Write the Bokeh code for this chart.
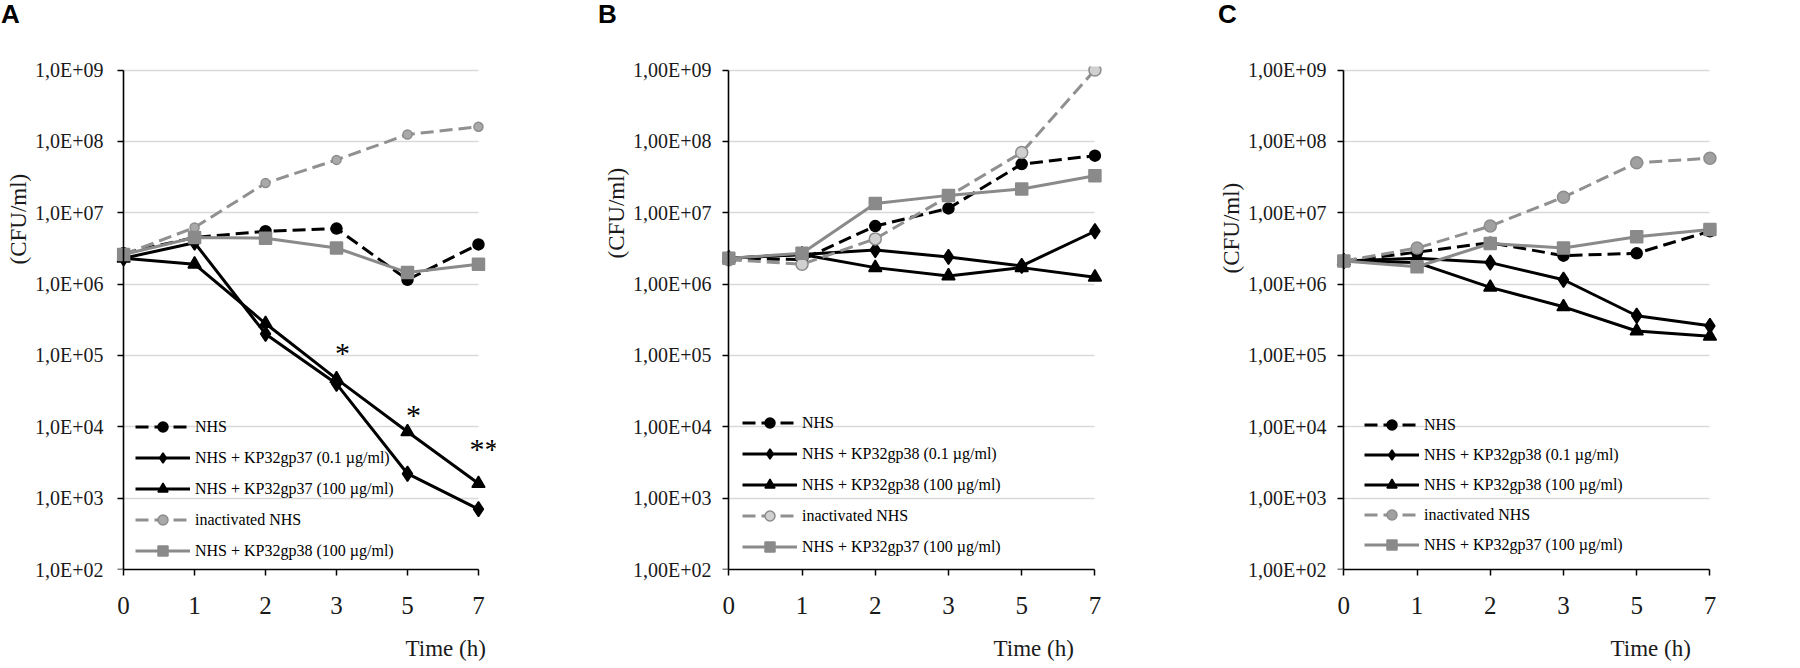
import math
from bokeh.plotting import figure
from bokeh.layouts import row, column
from bokeh.models import (Range1d, FixedTicker, Label, Legend, LegendItem, LogAxis,
                          Title, Div)
from bokeh.embed import file_html
from bokeh.resources import INLINE

# ---------------- data ----------------
times = ["0", "1", "2", "3", "5", "7"]

y_ticks = [1e2, 1e3, 1e4, 1e5, 1e6, 1e7, 1e8, 1e9]
a_tick_labels = ["1,0E+02", "1,0E+03", "1,0E+04", "1,0E+05",
                 "1,0E+06", "1,0E+07", "1,0E+08", "1,0E+09"]
bc_tick_labels = ["1,00E+02", "1,00E+03", "1,00E+04", "1,00E+05",
                  "1,00E+06", "1,00E+07", "1,00E+08", "1,00E+09"]

# Panel A
a_nhs = [2.7e6, 4.5e6, 5.5e6, 6.0e6, 1.15e6, 3.6e6]
a_gp37_low = [2.3e6, 3.8e6, 2.0e5, 4.0e4, 2.2e3, 7.0e2]
a_gp37_high = [2.3e6, 1.9e6, 2.8e5, 4.7e4, 8.5e3, 1.6e3]
a_inact = [2.6e6, 6.2e6, 2.6e7, 5.5e7, 1.25e8, 1.6e8]
a_gp38_high = [2.6e6, 4.5e6, 4.4e6, 3.2e6, 1.45e6, 1.9e6]
a_legend = ["NHS", "NHS + KP32gp37 (0.1 µg/ml)", "NHS + KP32gp37 (100 µg/ml)",
            "inactivated NHS", "NHS + KP32gp38 (100 µg/ml)"]
a_star_time = ["3", "5", "7"]
a_star_value = [1.1e5, 1.5e4, 5.0e3]
a_star_text = ["*", "*", "**"]

# Panel B
b_nhs = [2.3e6, 2.2e6, 6.5e6, 1.15e7, 4.8e7, 6.3e7]
b_gp38_low = [2.3e6, 2.6e6, 3.0e6, 2.4e6, 1.8e6, 5.5e6]
b_gp38_high = [2.3e6, 2.6e6, 1.7e6, 1.3e6, 1.7e6, 1.25e6]
b_inact = [2.2e6, 1.9e6, 4.3e6, 1.7e7, 7.0e7, 1.0e9]
b_gp37_high = [2.3e6, 2.7e6, 1.35e7, 1.75e7, 2.15e7, 3.3e7]

# Panel C
c_nhs = [2.1e6, 2.8e6, 3.8e6, 2.5e6, 2.7e6, 5.5e6]
c_gp38_low = [2.1e6, 2.3e6, 2.0e6, 1.15e6, 3.6e5, 2.6e5]
c_gp38_high = [2.1e6, 2.0e6, 9.0e5, 4.8e5, 2.2e5, 1.85e5]
c_inact = [2.1e6, 3.2e6, 6.5e6, 1.65e7, 5.0e7, 5.8e7]
c_gp37_high = [2.1e6, 1.75e6, 3.7e6, 3.2e6, 4.6e6, 5.8e6]

bc_legend = ["NHS", "NHS + KP32gp38 (0.1 µg/ml)", "NHS + KP32gp38 (100 µg/ml)",
             "inactivated NHS", "NHS + KP32gp37 (100 µg/ml)"]

# ---------------- styling / layout ----------------
FIG_W, FIG_H = 594, 644
DIV_H = 24
PAD_L, PAD_R = 0.10, 0.24
HEAD = 1.12
SERIF = "Liberation Serif"
SANS = "Liberation Sans"
GRAY = "#8a8a8a"
DASH = "13 6"


def styles(inact_size, inact_fill):
    return [
        dict(line="#000000", dash=DASH, marker="circle", size=11, fill="#000000", mline="#000000"),
        dict(line="#000000", dash="solid", marker="diamond", size=15, fill="#000000", mline="#000000"),
        dict(line="#000000", dash="solid", marker="triangle", size=13, fill="#000000", mline="#000000"),
        dict(line="#909090", dash=DASH, marker="circle", size=inact_size, fill=inact_fill, mline="#8c8c8c"),
        dict(line=GRAY, dash="solid", marker="square", size=12, fill=GRAY, mline=GRAY),
    ]


def make_panel(series, legend_labels, tick_labels, st, g, stars=None):
    n = len(times)
    span = n - 1
    unit = (g["x_last"] - g["x_first"]) / span
    frame_left = g["x_first"] - PAD_L * unit
    frame_w = (span + PAD_L + PAD_R) * unit
    ppd = (g["y_bot"] - g["y_top"]) / math.log10(y_ticks[-1] / y_ticks[0])
    frame_top = g["y_top"] - math.log10(HEAD) * ppd
    fig_top = DIV_H
    bl = int(round(frame_left - g["fig_left"]))
    br = int(round(FIG_W - bl - frame_w))
    bt = int(round(frame_top - fig_top))
    bb = int(round(FIG_H - bt - (g["y_bot"] - frame_top)))
    fl = g["fig_left"] + bl
    ft = fig_top + bt
    fb = fig_top + FIG_H - bb

    p = figure(width=FIG_W, height=FIG_H,
               x_range=Range1d(-PAD_L, span + PAD_R),
               y_range=Range1d(y_ticks[0], y_ticks[-1] * HEAD),
               y_axis_type="log", output_backend="svg", toolbar_location=None,
               min_border_left=bl, min_border_right=br,
               min_border_top=bt, min_border_bottom=bb)
    p.outline_line_color = None
    p.background_fill_color = "white"
    p.border_fill_color = "white"
    p.xgrid.visible = False

    yg = p.ygrid[0]
    yg.ticker = FixedTicker(ticks=y_ticks)
    yg.grid_line_color = "#d9d9d9"
    yg.grid_line_width = 1.5
    try:
        yg.cross_bounds = (0, span)
    except Exception:
        pass

    # left axis: tick labels only (at the frame edge)
    ya = p.yaxis[0]
    ya.ticker = FixedTicker(ticks=y_ticks, minor_ticks=[])
    ya.major_label_overrides = {t: s for t, s in zip(y_ticks, tick_labels)}
    ya.axis_line_color = None
    ya.major_tick_line_color = None
    ya.minor_tick_line_color = None
    ya.major_tick_out = 0
    ya.major_tick_in = 0
    ya.minor_tick_out = 0
    ya.minor_tick_in = 0
    ya.major_label_standoff = int(round(g["lab_gap"] - PAD_L * unit))
    ya.major_label_text_font = SERIF
    ya.major_label_text_font_size = "20px"
    ya.major_label_text_color = "#1a1a1a"

    # axis line and ticks drawn exactly at time 0
    ya2 = LogAxis(ticker=FixedTicker(ticks=y_ticks, minor_ticks=[]), fixed_location=0,
                  bounds=(y_ticks[0], y_ticks[-1]),
                  major_label_overrides={t: "" for t in y_ticks},
                  axis_line_color="#000000", axis_line_width=1.6,
                  major_tick_line_color="#000000", major_tick_line_width=1.5,
                  major_tick_in=6, major_tick_out=0, minor_tick_in=0, minor_tick_out=0,
                  major_label_standoff=0, major_label_text_font_size="1px")
    p.add_layout(ya2, "right")

    xa = p.xaxis[0]
    xa.ticker = FixedTicker(ticks=list(range(n)), minor_ticks=[])
    xa.major_label_overrides = {i: t for i, t in enumerate(times)}
    xa.bounds = (0, span)
    xa.axis_line_color = "#000000"
    xa.axis_line_width = 1.6
    xa.major_tick_line_color = "#000000"
    xa.major_tick_line_width = 1.5
    xa.major_tick_out = 6
    xa.major_tick_in = 0
    xa.minor_tick_out = 0
    xa.major_label_standoff = 21
    xa.major_label_text_font = SERIF
    xa.major_label_text_font_size = "25px"
    xa.major_label_text_color = "#1a1a1a"
    # invisible spacer label pushes the "Time (h)" title further down
    xa.axis_label = "\u00a0"
    xa.axis_label_text_font_size = "1px"
    xa.axis_label_standoff = 12

    xs = list(range(n))
    items = []
    for vals, lab, s in zip(series, legend_labels, st):
        lr = p.line(xs, vals, line_color=s["line"], line_width=3, line_dash=s["dash"])
        mr = p.scatter(xs, vals, marker=s["marker"], size=s["size"], fill_color=s["fill"],
                       line_color=s["mline"], line_width=1.5)
        items.append(LegendItem(label=lab, renderers=[lr, mr]))

    row_h = 25
    leg = Legend(items=items,
                 location=(int(round(g["leg_x"] - fl)),
                           int(round(fb - (g["leg_last"] + row_h / 2)))),
                 orientation="vertical", padding=0,
                 spacing=int(round(g["leg_pitch"] - row_h)),
                 glyph_width=55, glyph_height=row_h, label_height=row_h,
                 label_standoff=5, label_text_font=SERIF, label_text_font_size="16px",
                 label_text_color="#000000", background_fill_alpha=0,
                 border_line_alpha=0, margin=0)
    p.add_layout(leg)

    if stars is not None:
        for t, v, txt in zip(*stars):
            p.add_layout(Label(x=times.index(t), y=v, text=txt, x_offset=6,
                               text_align="center", text_baseline="middle",
                               text_font=SERIF, text_font_size="30px",
                               text_color="#000000"))

    p.add_layout(Title(text="(CFU/ml)" + "\u00a0" * 3, align="right", vertical_align="bottom",
                       offset=g["cfu_top"] - ft, standoff=4, text_font=SERIF,
                       text_font_size="23px", text_font_style="normal",
                       text_color="#1a1a1a"), "left")
    p.add_layout(Title(text="Time  (h)", align="left", vertical_align="top",
                       offset=g["time_left"] - fl, standoff=6, text_font=SERIF,
                       text_font_size="23px", text_font_style="normal",
                       text_color="#1a1a1a"), "below")
    return p


def letter_div(letter, indent):
    return Div(text=f'<div style="padding-left:{indent}px;padding-top:2px">{letter}</div>',
               width=FIG_W, height=DIV_H, margin=(0, 0, 0, 0),
               styles={"font-family": SANS, "font-size": "26px", "font-weight": "bold",
                       "line-height": "24px", "color": "#000000"})


geom_a = dict(fig_left=0, x_first=123, x_last=478, y_top=69, y_bot=572, lab_gap=20,
              leg_x=135, leg_last=554, leg_pitch=31, time_left=405, cfu_top=155)
geom_b = dict(fig_left=594, x_first=728, x_last=1094, y_top=70, y_bot=574, lab_gap=17,
              leg_x=742, leg_last=552, leg_pitch=31, time_left=993, cfu_top=150)
geom_c = dict(fig_left=1188, x_first=1343, x_last=1709, y_top=63, y_bot=569, lab_gap=17,
              leg_x=1364, leg_last=544, leg_pitch=30, time_left=1610, cfu_top=158)

pa = make_panel([a_nhs, a_gp37_low, a_gp37_high, a_inact, a_gp38_high],
                a_legend, a_tick_labels, styles(9, "#a9a9a9"), geom_a,
                stars=(a_star_time, a_star_value, a_star_text))
pb = make_panel([b_nhs, b_gp38_low, b_gp38_high, b_inact, b_gp37_high],
                bc_legend, bc_tick_labels, styles(12, "#d0d0d0"), geom_b)
pc = make_panel([c_nhs, c_gp38_low, c_gp38_high, c_inact, c_gp37_high],
                bc_legend, bc_tick_labels, styles(12, "#a0a0a0"), geom_c)

letters = row(letter_div("A", 1), letter_div("B", 4), letter_div("C", 30), spacing=0)
layout = column(letters, row(pa, pb, pc, spacing=0), spacing=0)
open("out.html", "w").write(file_html(layout, INLINE))
